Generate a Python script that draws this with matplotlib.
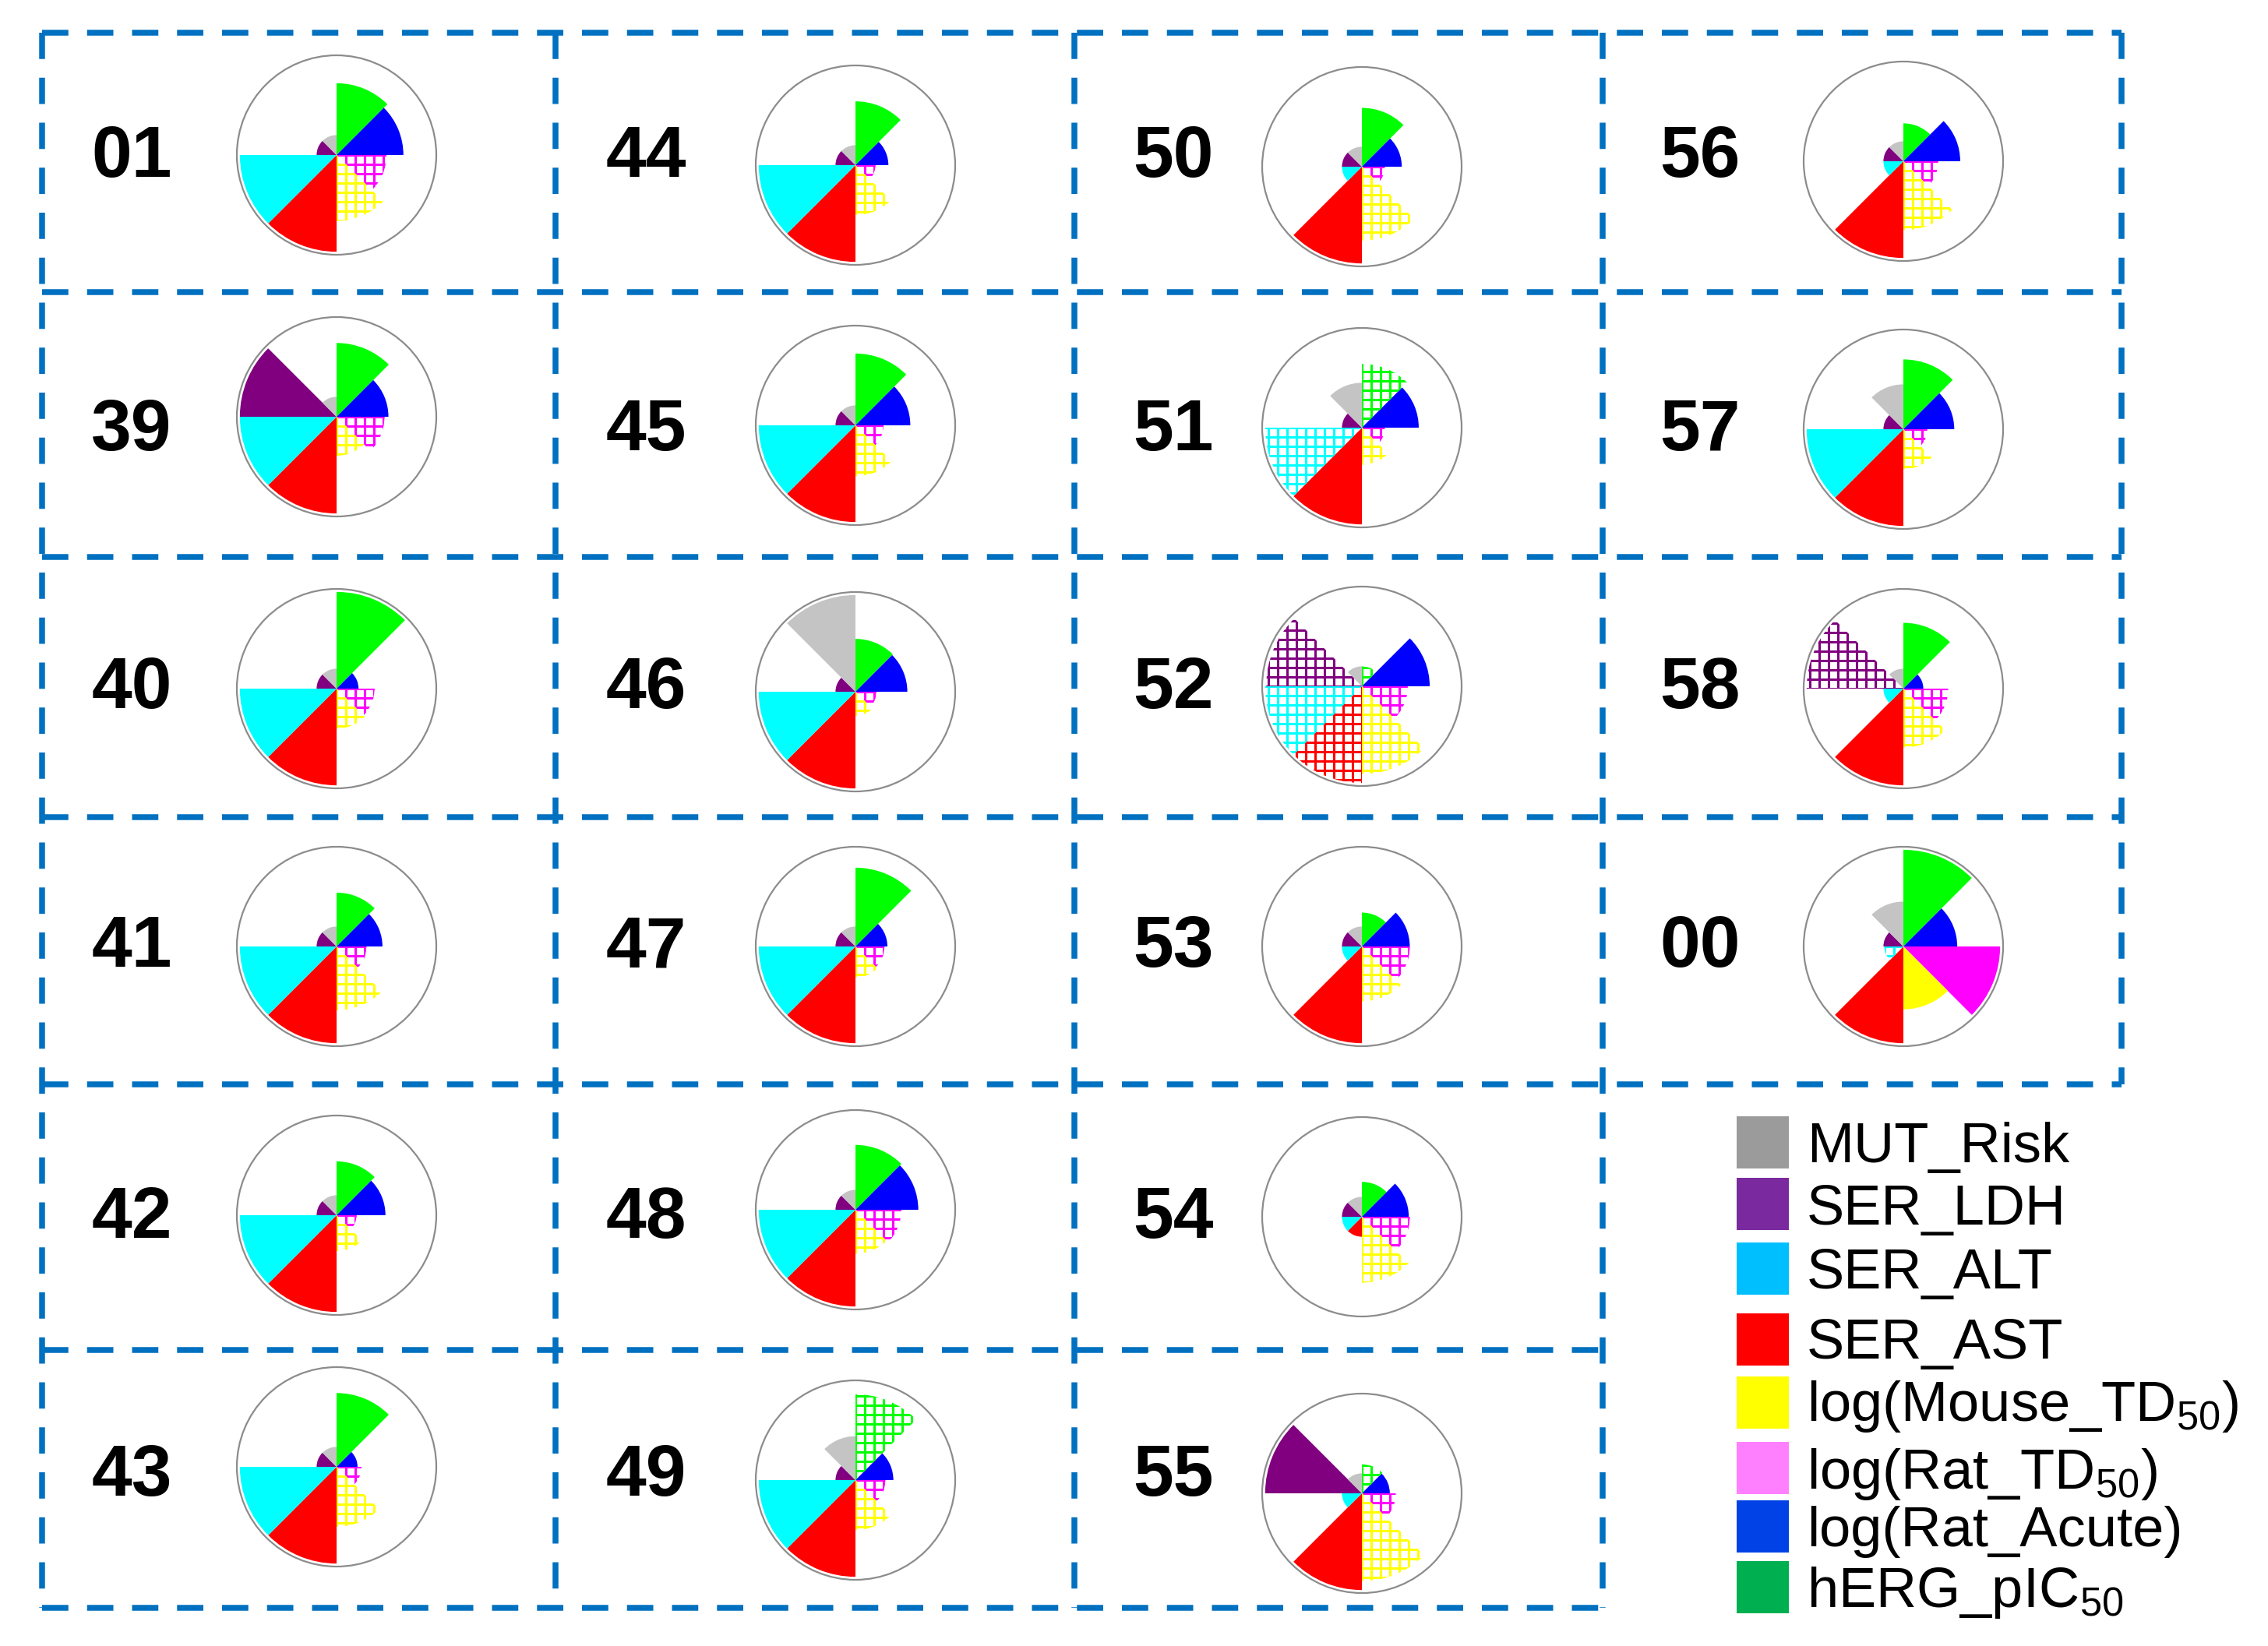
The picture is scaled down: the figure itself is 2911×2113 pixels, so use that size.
import matplotlib
matplotlib.use("Agg")
import matplotlib.pyplot as plt
from matplotlib.patches import Wedge, Circle, Rectangle
from matplotlib.collections import LineCollection
import numpy as np

plt.rcParams['font.family'] = ['Liberation Sans', 'DejaVu Sans']
plt.rcParams['mathtext.fontset'] = 'custom'
plt.rcParams['mathtext.rm'] = 'Liberation Sans'
plt.rcParams['mathtext.default'] = 'regular'

# ---------------- data ----------------
compounds = ["01", "44", "50", "56",
             "39", "45", "51", "57",
             "40", "46", "52", "58",
             "41", "47", "53", "00",
             "42", "48", "54",
             "43", "49", "55"]

# normalised score (fraction of the outer circle radius), clockwise from 12 o'clock
herg_pic50 = [0.72, 0.64, 0.59, 0.38, 0.74, 0.72, 0.64, 0.70, 0.97, 0.53, 0.20, 0.66,
              0.54, 0.79, 0.34, 0.97, 0.54, 0.65, 0.35, 0.74, 0.86, 0.29]
rat_acute = [0.67, 0.33, 0.40, 0.57, 0.52, 0.55, 0.57, 0.51, 0.22, 0.52, 0.68, 0.20,
             0.46, 0.32, 0.48, 0.54, 0.49, 0.63, 0.47, 0.21, 0.38, 0.28]
rat_td50 = [0.50, 0.20, 0.23, 0.35, 0.48, 0.28, 0.23, 0.24, 0.38, 0.21, 0.46, 0.45,
            0.30, 0.29, 0.48, 0.97, 0.20, 0.46, 0.48, 0.25, 0.30, 0.34]
mouse_td50 = [0.66, 0.50, 0.74, 0.69, 0.39, 0.51, 0.37, 0.40, 0.40, 0.24, 0.88, 0.59,
              0.64, 0.31, 0.55, 0.63, 0.36, 0.44, 0.66, 0.60, 0.50, 0.88]
ser_ast = [0.97, 0.97, 0.97, 0.97, 0.97, 0.97, 0.97, 0.97, 0.97, 0.97, 0.97, 0.97,
           0.97, 0.97, 0.97, 0.97, 0.97, 0.97, 0.20, 0.97, 0.97, 0.97]
ser_alt = [0.97, 0.97, 0.20, 0.20, 0.97, 0.97, 0.97, 0.97, 0.97, 0.97, 0.97, 0.20,
           0.97, 0.97, 0.20, 0.19, 0.97, 0.97, 0.20, 0.97, 0.97, 0.20]
ser_ldh = [0.20, 0.20, 0.20, 0.20, 0.97, 0.20, 0.20, 0.20, 0.20, 0.20, 0.96, 0.97,
           0.20, 0.20, 0.20, 0.20, 0.20, 0.20, 0.20, 0.20, 0.20, 0.97]
mut_risk = [0.20, 0.20, 0.20, 0.20, 0.20, 0.20, 0.45, 0.45, 0.20, 0.97, 0.20, 0.20,
            0.20, 0.20, 0.20, 0.45, 0.20, 0.20, 0.20, 0.20, 0.44, 0.20]

# 1 = hatched (grid) sector, 0 = solid sector
herg_hatch = [0, 0, 0, 0, 0, 0, 1, 0, 0, 0, 1, 0, 0, 0, 0, 0, 0, 0, 0, 0, 1, 1]
rat_acute_hatch = [0] * 22
rat_td50_hatch = [1, 1, 1, 1, 1, 1, 1, 1, 1, 1, 1, 1, 1, 1, 1, 0, 1, 1, 1, 1, 1, 1]
mouse_td50_hatch = [1, 1, 1, 1, 1, 1, 1, 1, 1, 1, 1, 1, 1, 1, 1, 0, 1, 1, 1, 1, 1, 1]
ser_ast_hatch = [0, 0, 0, 0, 0, 0, 0, 0, 0, 0, 1, 0, 0, 0, 0, 0, 0, 0, 0, 0, 0, 0]
ser_alt_hatch = [0, 0, 0, 0, 0, 0, 1, 0, 0, 0, 1, 0, 0, 0, 0, 1, 0, 0, 0, 0, 0, 0]
ser_ldh_hatch = [0, 0, 0, 0, 0, 0, 0, 0, 0, 0, 1, 1, 0, 0, 0, 0, 0, 0, 0, 0, 0, 0]
mut_risk_hatch = [0] * 22

legend_labels = ["MUT_Risk", "SER_LDH", "SER_ALT", "SER_AST",
                 "log(Mouse_TD$_{50}$)", "log(Rat_TD$_{50}$)", "log(Rat_Acute)",
                 "hERG_pIC$_{50}$"]

# ---------------- styles / layout ----------------
series = [herg_pic50, rat_acute, rat_td50, mouse_td50, ser_ast, ser_alt, ser_ldh, mut_risk]
hatches = [herg_hatch, rat_acute_hatch, rat_td50_hatch, mouse_td50_hatch,
           ser_ast_hatch, ser_alt_hatch, ser_ldh_hatch, mut_risk_hatch]
pie_colors = ["#00FF00", "#0000FF", "#FF00FF", "#FFFF00", "#FF0000", "#00FFFF", "#800080", "#C4C4C4"]
legend_colors = ["#9B9B9B", "#7A2A9E", "#00BFFF", "#FF0000", "#FFFF00", "#FF80FF", "#0042E6", "#00B050"]

W, H, DPI = 2911, 2113, 100
col_x = [432, 1098, 1748, 2443]
label_x = [169, 829, 1506, 2182]
label_base = [227, 578, 909, 1241, 1589, 1920]
pie_y = [199, 212, 214, 207,
         535, 546, 549, 551,
         884, 888, 881, 884,
         1215, 1215, 1215, 1215,
         1560, 1553, 1562,
         1883, 1900, 1917]
R = 128
BLUE = "#0070C0"

fig = plt.figure(figsize=(W / DPI, H / DPI), dpi=DPI)
ax = fig.add_axes([0, 0, 1, 1])
ax.set_xlim(0, W)
ax.set_ylim(H, 0)
ax.axis("off")

# dashed frame lines
lw_frame = 5.4
dash = (0, (4.5, 3.2))
hlines = [(42, 54, 2723), (375, 54, 2723), (715, 54, 2723), (1049, 54, 2723),
          (1392, 54, 2723), (1733, 54, 2057), (2064, 54, 2057)]
vlines = [(54, 42, 2064), (713, 42, 2064), (1379, 42, 2064), (2057, 42, 2064), (2723, 42, 1392)]
for y, x0, x1 in hlines:
    ax.plot([x0, x1], [y, y], color=BLUE, lw=lw_frame, linestyle=dash, dash_capstyle="butt")
for x, y0, y1 in vlines:
    ax.plot([x, x], [y0, y1], color=BLUE, lw=lw_frame, linestyle=dash, dash_capstyle="butt")

# positions of each compound in the grid
row_idx = []
col_idx = []
for r, n in enumerate([4, 4, 4, 4, 3, 3]):
    for c in range(n):
        row_idx.append(r)
        col_idx.append(c)

SP = 12.0  # hatch grid spacing (px)
for k, name in enumerate(compounds):
    cx = col_x[col_idx[k]]
    cy = pie_y[k]
    ax.text(label_x[col_idx[k]], label_base[row_idx[k]], name, fontsize=67,
            fontweight="bold", ha="center", va="baseline", color="black")
    for i in range(8):
        v = series[i][k]
        rr = v * R
        t1 = 45 * i - 90
        t2 = 45 * (i + 1) - 90
        if hatches[i][k]:
            w = Wedge((cx, cy), rr, t1, t2, facecolor="white", edgecolor="none", lw=0, zorder=2)
            ax.add_patch(w)
            n = int(np.ceil(R / SP)) + 1
            offs = np.arange(-n, n + 1) * SP
            segs = []
            for o in offs:
                segs.append([(cx + o, cy - R), (cx + o, cy + R)])
                segs.append([(cx - R, cy + o), (cx + R, cy + o)])
            lc = LineCollection(segs, colors=pie_colors[i], linewidths=2.2, zorder=2.5)
            ax.add_collection(lc)
            lc.set_clip_path(w)
        else:
            w = Wedge((cx, cy), rr, t1, t2, facecolor=pie_colors[i], edgecolor="none", lw=0, zorder=2)
            ax.add_patch(w)
    ax.add_patch(Circle((cx, cy), R, fill=False, edgecolor="#8C8C8C", lw=1.6, zorder=3))

# legend
sq_top = [1433, 1512, 1595, 1686, 1767, 1851, 1926, 2004]
txt_base = [1492, 1572, 1654, 1744, 1824, 1911, 1985, 2063]
for j, lab in enumerate(legend_labels):
    ax.add_patch(Rectangle((2229, sq_top[j]), 67, 67, facecolor=legend_colors[j],
                           edgecolor="none", zorder=2))
    ax.text(2319, txt_base[j], lab, fontsize=52, ha="left", va="baseline", color="black")

fig.savefig("out.png", dpi=DPI)
